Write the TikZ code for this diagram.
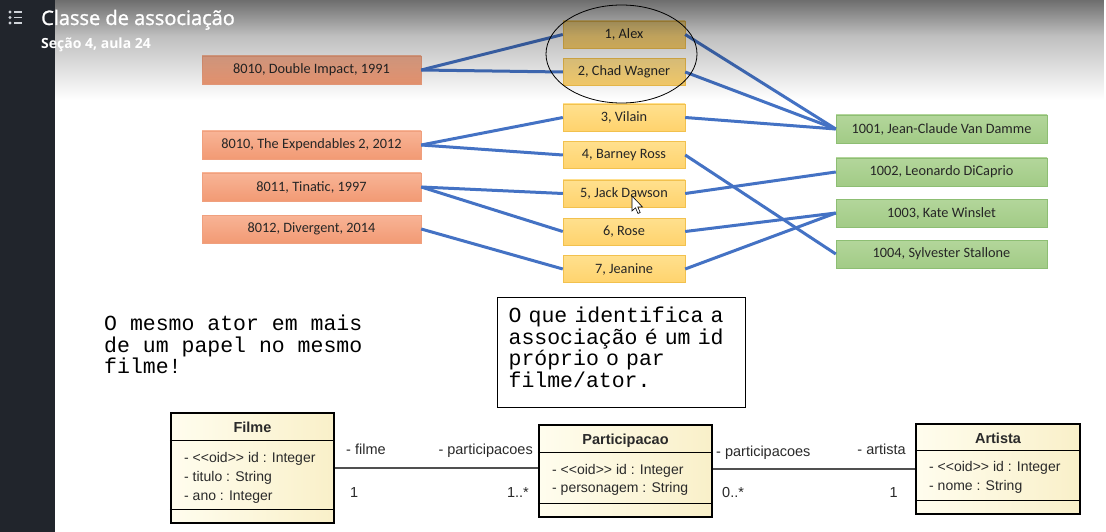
\documentclass[tikz,border=0pt]{standalone}
\usepackage{fontspec}
\setmainfont{Carlito}
\newfontfamily\headfont{Open Sans}
\newfontfamily\headboldfont[FakeBold=1.3]{Open Sans}
\newfontfamily\umlfont{Liberation Sans}
\newfontfamily\notefont{Liberation Mono}
\usetikzlibrary{calc}
\usetikzlibrary{fadings}
\usetikzlibrary{positioning}

\definecolor{movieTop}{HTML}{F8B496}
\definecolor{movieBot}{HTML}{F29A74}
\definecolor{movieLine}{HTML}{F0A07E}
\definecolor{roleTop}{HTML}{FFE08E}
\definecolor{roleBot}{HTML}{FFD36D}
\definecolor{roleLine}{HTML}{F2C14E}
\definecolor{actorTop}{HTML}{B3D69B}
\definecolor{actorBot}{HTML}{A2CB86}
\definecolor{actorLine}{HTML}{8DBE73}
\definecolor{boxText}{HTML}{262626}
\definecolor{linkBlue}{HTML}{4472C4}
\definecolor{umlLeft}{HTML}{FFFDEE}
\definecolor{umlRight}{HTML}{F9F0C9}
\definecolor{umlText}{HTML}{2A2A2A}
\definecolor{assocGray}{HTML}{505050}
\definecolor{sidebar}{HTML}{21252C}
\definecolor{iconGray}{HTML}{D0D4DA}

\tikzfading[name=headfadeA, top color=transparent!43, bottom color=transparent!75]
\tikzfading[name=headfadeB, top color=transparent!75, bottom color=transparent!100]

\tikzset{
  movie/.style={draw=movieLine, top color=movieTop, bottom color=movieBot,
    minimum width=219pt, minimum height=28pt, inner sep=0pt,
    font=\fontsize{14.3}{16}\selectfont, text=boxText},
  role/.style={draw=roleLine, top color=roleTop, bottom color=roleBot,
    minimum width=122pt, minimum height=27pt, inner sep=0pt,
    font=\fontsize{14.3}{16}\selectfont, text=boxText},
  actor/.style={draw=actorLine, top color=actorTop, bottom color=actorBot,
    minimum width=211pt, minimum height=28pt, inner sep=0pt,
    font=\fontsize{14.3}{16}\selectfont, text=boxText},
  link/.style={draw=linkBlue, line width=3pt},
  umlclass/.style={draw=black, line width=2.4pt, left color=umlLeft, right color=umlRight, inner sep=0pt},
  umlsep/.style={line width=1.2pt},
  umltitle/.style={inner sep=0pt, font=\umlfont\bfseries\fontsize{14.5}{16}\selectfont, text=umlText},
  umlattr/.style={anchor=west, inner sep=0pt, font=\umlfont\fontsize{14}{16}\selectfont, text=umlText},
  assoc/.style={draw=assocGray, line width=1.6pt},
  rolename/.style={inner sep=0pt, font=\umlfont\fontsize{14.5}{16}\selectfont, text=umlText},
  note/.style={inner sep=0pt, align=left, font=\notefont\fontsize{21.5}{21.5}\selectfont}
}

\begin{document}
\begin{tikzpicture}[x=1pt, y=-1pt]
    \useasboundingbox (0,0) rectangle (1106,532);
    \fill[white] (0,0) rectangle (1106,532);

    % filmes
    \node[movie] (dimpact) at (311.5,70) {8010, Double Impact, 1991};
    \node[movie] (expend) at (311.5,145) {8010, The Expendables 2, 2012};
    \node[movie] (tinatic) at (311.5,187) {8011, Tinatic, 1997};
    \node[movie] (diverg) at (311.5,229) {8012, Divergent, 2014};

    % participacoes
    \node[role] (alex) at (624,34.5) {1, Alex};
    \node[role] (chad) at (624,72) {2, Chad Wagner};
    \node[role] (vilain) at (624,117.5) {3, Vilain};
    \node[role] (barney) at (624,155) {4, Barney Ross};
    \node[role] (jack) at (624,193.5) {5, Jack Dawson};
    \node[role] (rose) at (624,231.5) {6, Rose};
    \node[role] (jeanine) at (624,269) {7, Jeanine};

    % artistas
    \node[actor] (vandamme) at (941.5,129) {1001, Jean-Claude Van Damme};
    \node[actor] (dicaprio) at (941.5,172) {1002, Leonardo DiCaprio};
    \node[actor] (winslet) at (941.5,213) {1003, Kate Winslet};
    \node[actor] (stallone) at (941.5,254) {1004, Sylvester Stallone};

    \draw[link] (dimpact.east) -- (alex.west);
    \draw[link] (dimpact.east) -- (chad.west);
    \draw[link] (expend.east) -- (vilain.west);
    \draw[link] (expend.east) -- (barney.west);
    \draw[link] (tinatic.east) -- (jack.west);
    \draw[link] (tinatic.east) -- (rose.west);
    \draw[link] (diverg.east) -- (jeanine.west);
    \draw[link] (alex.east) -- (vandamme.west);
    \draw[link] (chad.east) -- (vandamme.west);
    \draw[link] (vilain.east) -- (vandamme.west);
    \draw[link] (barney.east) -- (stallone.west);
    \draw[link] (jack.east) -- (dicaprio.west);
    \draw[link] (rose.east) -- (winslet.west);
    \draw[link] (jeanine.east) -- (winslet.west);

    % cursor
    \filldraw[fill=white, draw=black, line width=0.6pt] (632,196) -- (632,211) -- (635.5,207.8)
        -- (638,213.5) -- (640.2,212.5) -- (637.8,207) -- (642.5,207) -- cycle;

    % header
    \fill[black, path fading=headfadeA] (55,0) rectangle (1106,36);
    \fill[black, path fading=headfadeB] (55,36) rectangle (1106,100);
    \draw[line width=0.8pt] (621.5,54) ellipse [x radius=75.5, y radius=49];
    \fill[sidebar] (0,0) rectangle (55,532);
    \foreach \y in {12,17.5,23} {
        \fill[iconGray] (10,\y) circle (1.6);
        \draw[iconGray, line width=1.8pt] (14,\y) -- (22,\y);
    }
    \node[anchor=base west, inner sep=0pt, text=white, font=\headboldfont\fontsize{20}{24}\selectfont]
        (title) at (41,25) {Classe de associação};
    \node[anchor=base west, inner sep=0pt, text=white, font=\headfont\bfseries\fontsize{14}{16}\selectfont]
        (subtitle) at (41,48.5) {Seção 4, aula 24};

    % notas
    \node[note, anchor=north west] (note1) at (104,315) {O mesmo ator em mais\\de um papel no mesmo\\filme!};
    \node[note, draw=black, line width=1.2pt, fill=white, anchor=north west, inner xsep=11pt,
        text width=226pt, text depth=75.5pt, minimum height=110pt] (note2) at (497,297)
        {O que identifica a\\associação é um id\\próprio o par\\filme/ator.};

    % uml
    \node[umlclass, minimum width=163pt, minimum height=110pt] (filme) at (252.5,468) {};
    \draw[umlsep] ($(filme.north west)+(0,29)$) -- ($(filme.north east)+(0,29)$);
    \draw[umlsep] ($(filme.south west)+(0,-15)$) -- ($(filme.south east)+(0,-15)$);
    \node[umltitle] (filmename) at ($(filme.north)+(0,16)$) {Filme};
    \node[umlattr] (filmeid) at (184,459) {- {<}{<}oid{>}{>} id : Integer};
    \node[umlattr] (filmetit) at (184,478) {- titulo : String};
    \node[umlattr] (filmeano) at (184,497) {- ano : Integer};

    \node[umlclass, minimum width=173pt, minimum height=92pt] (partic) at (625.5,471) {};
    \draw[umlsep] ($(partic.north west)+(0,29)$) -- ($(partic.north east)+(0,29)$);
    \draw[umlsep] ($(partic.south west)+(0,-15)$) -- ($(partic.south east)+(0,-15)$);
    \node[umltitle] (particname) at ($(partic.north)+(0,17)$) {Participacao};
    \node[umlattr] (particid) at (552,471) {- {<}{<}oid{>}{>} id : Integer};
    \node[umlattr] (particpers) at (552,489) {- personagem : String};

    \node[umlclass, minimum width=164pt, minimum height=90pt] (artista) at (998,469) {};
    \draw[umlsep] ($(artista.north west)+(0,28)$) -- ($(artista.north east)+(0,28)$);
    \draw[umlsep] ($(artista.south west)+(0,-15)$) -- ($(artista.south east)+(0,-15)$);
    \node[umltitle] (artistaname) at ($(artista.north)+(0,16)$) {Artista};
    \node[umlattr] (artistaid) at (929,468) {- {<}{<}oid{>}{>} id : Integer};
    \node[umlattr] (artistanome) at (929,487) {- nome : String};

    \draw[assoc] (filme.east) -- (filme.east -| partic.west);
    \draw[assoc] (artista.west) -- (artista.west -| partic.east);
    \node[rolename, anchor=west] (rfilme) at (346,449) {- filme};
    \node[rolename, anchor=west] (mfilme) at (350,493) {1};
    \node[rolename, anchor=east] (rpartic1) at (533,451) {- participacoes};
    \node[rolename, anchor=east] (mpartic1) at (529,493) {1..*};
    \node[rolename, anchor=west] (rpartic2) at (716,453) {- participacoes};
    \node[rolename, anchor=west] (mpartic2) at (722,493) {0..*};
    \node[rolename, anchor=east] (rartista) at (906,449) {- artista};
    \node[rolename, anchor=east] (martista) at (898,493) {1};
\end{tikzpicture}
\end{document}
